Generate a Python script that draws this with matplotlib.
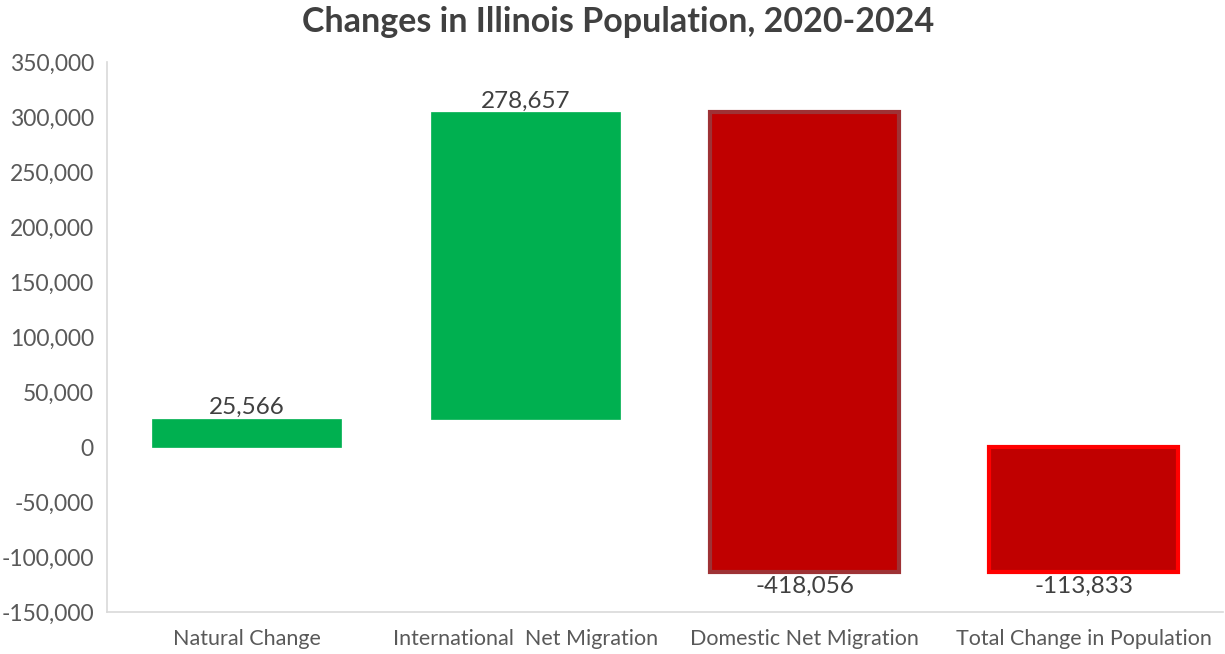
import matplotlib.pyplot as plt
from matplotlib.ticker import FuncFormatter

categories = ["Natural Change", "International  Net Migration",
              "Domestic Net Migration", "Total Change in Population"]
changes = [25566, 278657, -418056]
total_change = -113833

plt.rcParams['font.family'] = ['Lato', 'DejaVu Sans']

fig = plt.figure(figsize=(12.25, 6.54), dpi=100)
ax = fig.add_axes([107 / 1225, 1 - 612 / 654, (1223 - 107) / 1225, (612 - 62) / 654])

green = "#00B050"
red = "#C00000"

# running waterfall bases
bottoms = []
heights = []
running = 0
for v in changes:
    bottoms.append(running)
    heights.append(v)
    running += v
bottoms.append(0)
heights.append(total_change)

fills = [green if h > 0 else red for h in heights]
edges = [green, green, "#9E3235", "#FF0000"]
lws = [0.5, 0.5, 3, 3]
labels = changes + [total_change]

x = list(range(len(categories)))
bars = ax.bar(x, heights, bottom=bottoms, width=0.68, color=fills,
              edgecolor=edges, linewidth=lws)

for xi, b, h, lab in zip(x, bottoms, heights, labels):
    if h > 0:
        ax.text(xi, b + h + 500, f"{lab:,}", ha="center", va="bottom",
                fontsize=17.5, color="#404040")
    else:
        ax.text(xi, b + h - 3500, f"{lab:,}", ha="center", va="top",
                fontsize=17.5, color="#404040")

ax.set_xlim(-0.5, 3.5)
ax.set_ylim(-150000, 350000)
ax.set_yticks(range(-150000, 350001, 50000))
ax.yaxis.set_major_formatter(FuncFormatter(lambda v, p: f"{int(v):,}"))
ax.set_xticks(x)
ax.set_xticklabels(categories)
ax.tick_params(axis="both", length=0, colors="#595959", labelsize=16.5)
ax.tick_params(axis="x", labelsize=15.5, pad=12)
ax.tick_params(axis="y", pad=9.5)

for s in ["top", "right"]:
    ax.spines[s].set_visible(False)
for s in ["left", "bottom"]:
    ax.spines[s].set_color("#D9D9D9")
    ax.spines[s].set_linewidth(1.2)

fig.suptitle("Changes in Illinois Population, 2020-2024", x=618 / 1225, y=1 - 6 / 654,
             va="top", fontsize=24.5, fontweight="bold", color="#404040")

fig.savefig("out.png", dpi=100)
